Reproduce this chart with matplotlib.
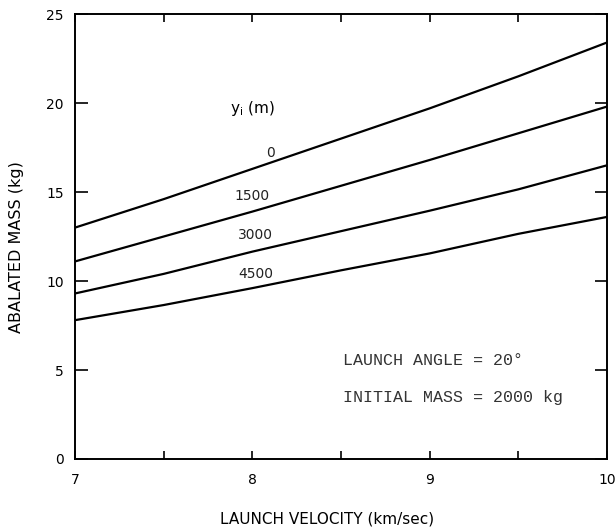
import numpy as np
import matplotlib.pyplot as plt

# launch velocity (km/sec)
velocity = [7.0, 7.5, 8.0, 8.5, 9.0, 9.5, 10.0]
# ablated mass (kg) for each initial altitude y_i (m)
mass_0 = [13.0, 14.6, 16.3, 18.0, 19.7, 21.5, 23.4]
mass_1500 = [11.1, 12.5, 13.9, 15.35, 16.8, 18.3, 19.8]
mass_3000 = [9.3, 10.4, 11.65, 12.8, 13.95, 15.15, 16.5]
mass_4500 = [7.8, 8.65, 9.6, 10.6, 11.55, 12.65, 13.6]
series = [mass_0, mass_1500, mass_3000, mass_4500]
labels = ["0", "1500", "3000", "4500"]

fig = plt.figure(figsize=(6.16, 5.31), dpi=100)
ax = fig.add_axes([0.1218, 0.1356, 0.8636, 0.838])

for m in series:
    ax.plot(velocity, m, color="black", lw=1.6)

# curve labels sit just above each line
lab_x = [8.1, 8.0, 8.02, 8.02]
lab_y = [17.2, 14.8, 12.6, 10.4]
for lx, ly, t in zip(lab_x, lab_y, labels):
    ax.text(lx, ly, t, fontsize=10, ha="center", va="center", color="#222222")
ax.text(8.0, 19.7, r"y$_\mathrm{i}$ (m)", fontsize=11, ha="center", va="center")

mono = "Liberation Mono"
ax.text(8.51, 5.56, "LAUNCH ANGLE = 20°", family=mono, fontsize=12,
        va="center", color="#333333")
ax.text(8.51, 3.48, "INITIAL MASS = 2000 kg", family=mono, fontsize=12,
        va="center", color="#333333")

ax.set_xlim(7, 10)
ax.set_ylim(0, 25)
ax.set_xticks([7, 8, 9, 10])
ax.set_xticks([7.5, 8.5, 9.5], minor=True)
ax.set_yticks([0, 5, 10, 15, 20, 25])
ax.tick_params(axis="both", which="both", direction="in", top=True, right=True,
               width=1.2, labelsize=10, colors="black")
ax.tick_params(axis="y", which="major", length=9, pad=8)
ax.tick_params(axis="x", which="major", length=6, pad=10)
ax.tick_params(axis="x", which="minor", length=6)
for s in ax.spines.values():
    s.set_linewidth(1.4)

ax.set_xlabel("LAUNCH VELOCITY (km/sec)", fontsize=11)
ax.set_ylabel("ABALATED MASS (kg)", fontsize=11.5)
ax.xaxis.set_label_coords(0.474, -0.119)
ax.yaxis.set_label_coords(-0.096, 0.476)

fig.savefig("out.png", dpi=100)
